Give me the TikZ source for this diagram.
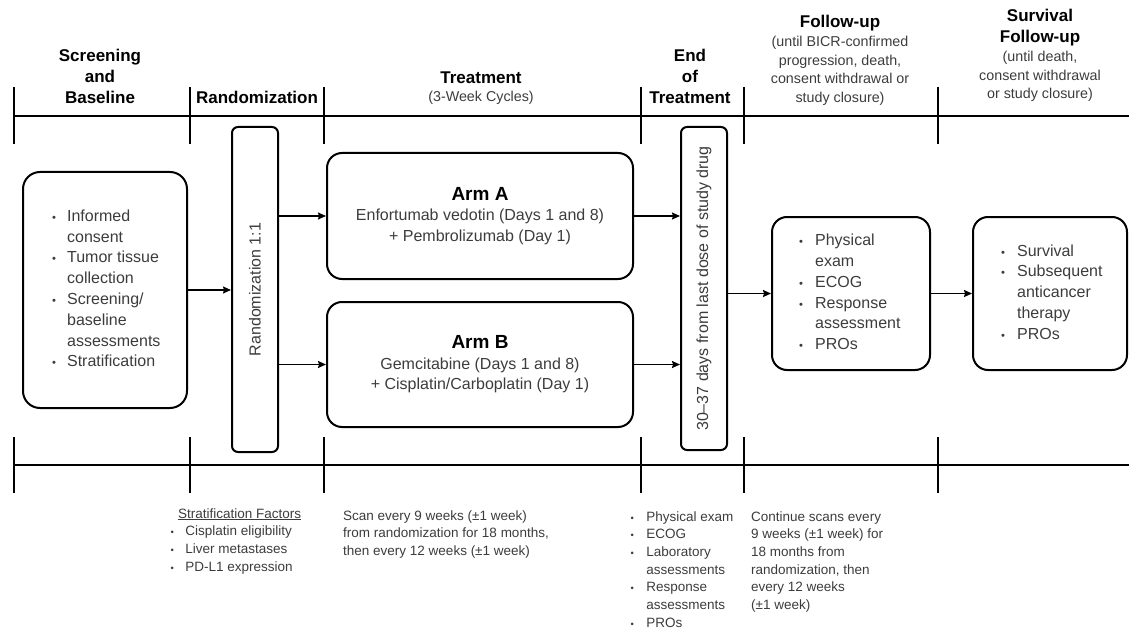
\documentclass[tikz,border=0pt]{standalone}
\usepackage{fontspec}
\setmainfont{Liberation Sans}
\usepackage{graphicx}
\usepackage{tikz}
\usetikzlibrary{arrows.meta}
\usetikzlibrary{positioning}

\definecolor{textGray}{HTML}{3C3C3C}
\newcommand{\bul}{\scalebox{0.7}{\textbullet}}
\newcommand{\headFont}{\fontsize{17}{21}\selectfont\bfseries}
\newcommand{\subFont}{\fontsize{14.3}{18.5}\selectfont}
\newcommand{\headLine}[1]{{\headFont\color{black}#1}}
\newcommand{\armLine}[1]{{\fontsize{19}{21}\selectfont\bfseries\color{black}#1}}

\begin{document}
\begin{tikzpicture}[x=1pt,y=-1pt,
        phaseBox/.style = {draw=black,line width=2pt,rounded corners=15pt,inner sep=0pt},
        barBox/.style = {draw=black,line width=2pt,rounded corners=6pt,inner sep=0pt},
        headNode/.style = {align=center,inner sep=0pt,font=\headFont},
        mixNode/.style = {align=center,inner sep=0pt,text=textGray,font=\subFont},
        boxText/.style = {text=textGray,inner sep=0pt,font=\fontsize{16}{20.8}\selectfont},
        armText/.style = {align=center,text=textGray,font=\fontsize{16}{20.5}\selectfont},
        noteNode/.style = {anchor=north west,text=textGray,inner sep=0pt,font=\fontsize{13.5}{17.7}\selectfont},
        flowArrow/.style = {-{Stealth[length=8pt,width=7pt,inset=1pt]},line width=1.6pt},
        timeLine/.style = {line width=2.2pt}
        ]
    \useasboundingbox (0,0) rectangle (1129,631);

    % time lines with phase ticks
    \draw[timeLine] (14,116) -- (1129,116)
        (14,87) -- (14,144) (190,87) -- (190,144) (324,87) -- (324,144)
        (641,87) -- (641,144) (744,87) -- (744,144) (938,87) -- (938,144);
    \draw[timeLine] (14,465) -- (1129,465)
        (14,437) -- (14,493) (190,437) -- (190,493) (324,437) -- (324,493)
        (641,437) -- (641,493) (744,437) -- (744,493) (938,437) -- (938,493);

    % phase headers
    \node[headNode] (hScreen) at (100,76) {Screening\\and\\Baseline};
    \node[headNode] (hRand) at (257,97) {Randomization};
    \node[mixNode] (hTreat) at (481,88) {\headLine{Treatment}\\(3-Week Cycles)};
    \node[headNode] (hEnd) at (690,76) {End\\of\\Treatment};
    \node[mixNode] (hFollow) at (840,60) {\headLine{Follow-up}\\[1pt](until BICR-confirmed\\progression, death,\\consent withdrawal or\\study closure)};
    \node[mixNode] (hSurv) at (1040,55.5) {\headLine{Survival}\\[2pt]\headLine{Follow-up}\\[1pt](until death,\\consent withdrawal\\or study closure)};

    % boxes
    \node[phaseBox,minimum width=164pt,minimum height=236pt,rounded corners=17pt] (screen) at (105,290) {};
    \node[boxText,anchor=west] (screenList) at ([xshift=30pt]screen.west) {\begin{tabular}{@{}l@{\hspace{11pt}}l@{}}
        \bul & Informed\\ & consent\\ \bul & Tumor tissue\\ & collection\\
        \bul & Screening/\\ & baseline\\ & assessments\\ \bul & Stratification
        \end{tabular}};
    \node[barBox,minimum width=46pt,minimum height=325pt] (rand) at (255,289.5) {};
    \node[boxText,rotate=90] (randLabel) at (rand.center) {Randomization 1:1};
    \node[phaseBox,armText,minimum width=306pt,minimum height=126pt] (armA) at (480,216)
        {\armLine{Arm A}\\Enfortumab vedotin (Days 1 and 8)\\+ Pembrolizumab (Day 1)};
    \node[phaseBox,armText,minimum width=306pt,minimum height=125pt] (armB) at (480,364.5)
        {\armLine{Arm B}\\Gemcitabine (Days 1 and 8)\\+ Cisplatin/Carboplatin (Day 1)};
    \node[barBox,minimum width=46pt,minimum height=323pt] (eot) at (704,288.5) {};
    \node[boxText,rotate=90] (eotLabel) at (eot.center) {30--37 days from last dose of study drug};
    \node[phaseBox,minimum width=158pt,minimum height=153pt] (follow) at (851,293.5) {};
    \node[boxText,anchor=west] (followList) at ([xshift=28pt]follow.west) {\begin{tabular}{@{}l@{\hspace{12pt}}l@{}}
        \bul & Physical\\ & exam\\ \bul & ECOG\\ \bul & Response\\ & assessment\\ \bul & PROs
        \end{tabular}};
    \node[phaseBox,minimum width=154pt,minimum height=153pt] (surv) at (1050,293.5) {};
    \node[boxText,anchor=west] (survList) at ([xshift=29pt]surv.west) {\begin{tabular}{@{}l@{\hspace{12pt}}l@{}}
        \bul & Survival\\ \bul & Subsequent\\ & anticancer\\ & therapy\\ \bul & PROs
        \end{tabular}};

    % arrows
    \draw[flowArrow] (screen.east) -- (screen.east -| rand.west);
    \draw[flowArrow] (armA.west -| rand.east) -- (armA.west);
    \draw[flowArrow] (armB.west -| rand.east) -- (armB.west);
    \draw[flowArrow] (armA.east) -- (armA.east -| eot.west);
    \draw[flowArrow] (armB.east) -- (armB.east -| eot.west);
    \draw[flowArrow] (follow.west -| eot.east) -- (follow.west);
    \draw[flowArrow] (follow.east) -- (surv.west);

    % notes below the time line
    \node[noteNode] (stratNote) at (170.3,505.5) {\begin{tabular}{@{}l@{\hspace{11.5pt}}l@{}}
        \multicolumn{2}{@{\hspace{7.5pt}}l@{}}{\underline{Stratification Factors}}\\
        \bul & Cisplatin eligibility\\ \bul & Liver metastases\\ \bul & PD-L1 expression
        \end{tabular}};
    \node[noteNode] (scanNote) at (343,507.5) {\begin{tabular}{@{}l@{}}
        Scan every 9 weeks (±1 week)\\ from randomization for 18 months,\\ then every 12 weeks (±1 week)
        \end{tabular}};
    \node[noteNode] (eotNote) at (630.3,508.5) {\begin{tabular}{@{}l@{\hspace{12.5pt}}l@{}}
        \bul & Physical exam\\ \bul & ECOG\\ \bul & Laboratory\\ & assessments\\
        \bul & Response\\ & assessments\\ \bul & PROs
        \end{tabular}};
    \node[noteNode] (followNote) at (751,508.5) {\begin{tabular}{@{}l@{}}
        Continue scans every\\ 9 weeks (±1 week) for\\ 18 months from\\ randomization, then\\ every 12 weeks\\ (±1 week)
        \end{tabular}};
\end{tikzpicture}
\end{document}
